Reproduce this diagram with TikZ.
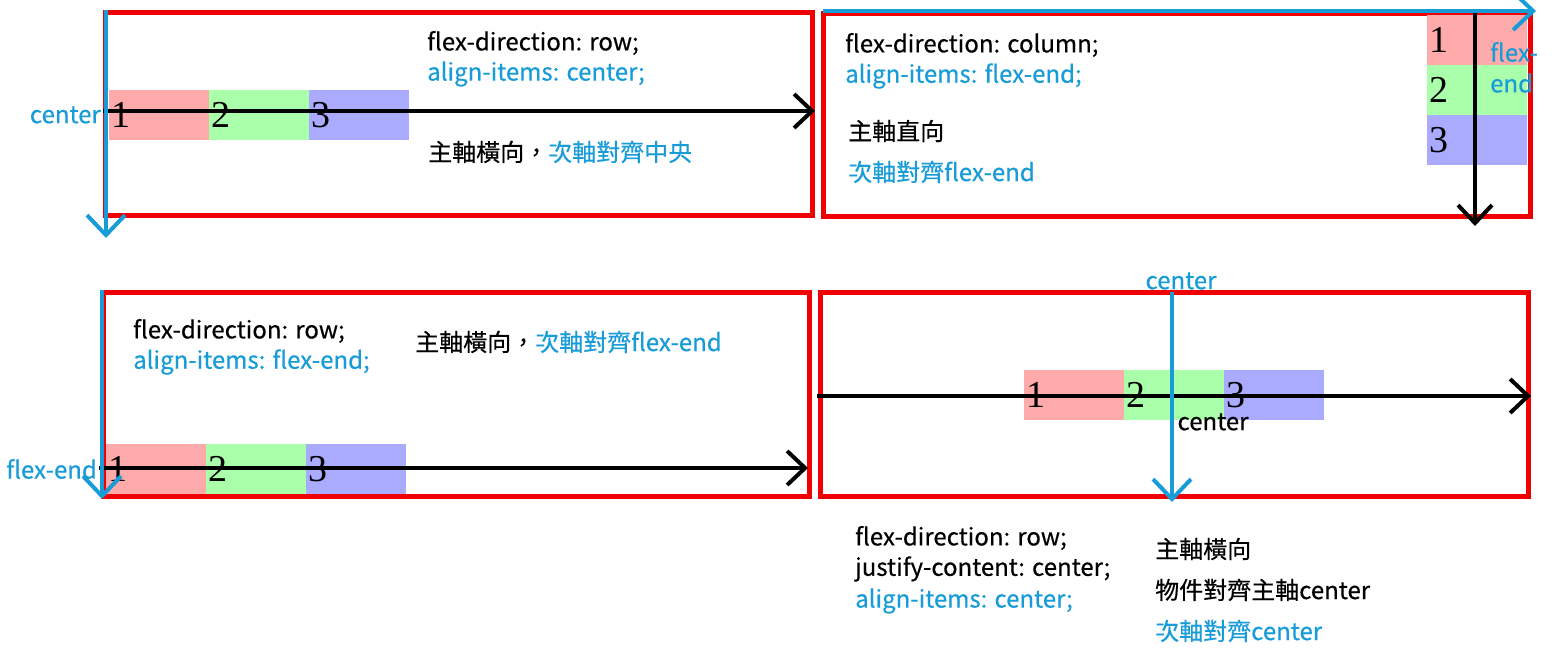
\documentclass[tikz,border=0pt]{standalone}
\usepackage{fontspec}
\setmainfont{Noto Sans CJK TC}[FakeBold=0.4]
\newfontfamily\numfont{Liberation Serif}
\usetikzlibrary{arrows.meta}
\definecolor{cblue}{RGB}{24,156,216}
\definecolor{cred}{RGB}{240,0,0}
\definecolor{ipink}{RGB}{255,170,170}
\definecolor{igreen}{RGB}{170,255,170}
\definecolor{iblue}{RGB}{170,170,255}
\tikzset{
  redbox/.style={draw=cred,line width=5pt},
  item/.style={rectangle,minimum width=100pt,minimum height=50pt,inner xsep=2pt,inner ysep=0pt,text width=96pt,align=left,font=\numfont\fontsize{38}{38}\selectfont},
  mainarrow/.style={draw=black,line width=4pt,-{Straight Barb[length=18pt,width=34pt,line width=4pt]}},
  crossarrow/.style={draw=cblue,line width=4pt,-{Straight Barb[length=20pt,width=38pt,line width=4pt]}},
  txt/.style={anchor=west,inner sep=0pt,font=\fontsize{24}{27}\selectfont},
  btxt/.style={txt,text=cblue},
}
\begin{document}
\begin{tikzpicture}[x=1pt,y=-1pt]
\useasboundingbox (0,0) rectangle (1558,652);
\fill[white] (0,0) rectangle (1558,652);

% ---------- box 1 ----------
\draw[redbox] (105,13) rectangle (812,216);
\node[item,fill=ipink]  (a1) at (159,115) {1};
\node[item,fill=igreen] (a2) at (259,115) {2};
\node[item,fill=iblue]  (a3) at (359,115) {3};
\coordinate (a-ms) at (103,111);
\coordinate (a-me) at (815,111);
\coordinate (a-cs) at (106,10);
\coordinate (a-ce) at (106,238);
\draw[mainarrow] (a-ms) -- (a-me);
\draw[crossarrow] (a-cs) -- (a-ce);
\node[btxt,anchor=east] (a-lab) at (101,115) {center};
\node[txt] (a-t1) at (427,43) {flex-direction: row;};
\node[btxt] (a-t2) at (427,74) {align-items: center;};
\node[txt] (a-t3) at (428,152) {主軸橫向，\textcolor{cblue}{次軸對齊中央}};

% ---------- box 2 ----------
\draw[redbox] (823,14) rectangle (1530,217);
\node[item,fill=ipink]  (b1) at (1477,40) {1};
\node[item,fill=igreen] (b2) at (1477,90) {2};
\node[item,fill=iblue]  (b3) at (1477,140) {3};
\coordinate (b-ms) at (1475,12);
\coordinate (b-me) at (1475,226);
\coordinate (b-cs) at (823,11);
\coordinate (b-ce) at (1536,11);
\draw[mainarrow] (b-ms) -- (b-me);
\draw[crossarrow] (b-cs) -- (b-ce);
\node[btxt] (b-l1) at (1490,52) {flex-};
\node[btxt] (b-l2) at (1490,83) {end};
\node[txt] (b-t1) at (845,45) {flex-direction: column;};
\node[btxt] (b-t2) at (845,76) {align-items: flex-end;};
\node[txt] (b-t3) at (848,131) {主軸直向};
\node[btxt] (b-t4) at (848,172) {次軸對齊flex-end};

% ---------- box 3 ----------
\draw[redbox] (103,293) rectangle (809,496);
\node[item,fill=ipink]  (c1) at (156,469) {1};
\node[item,fill=igreen] (c2) at (256,469) {2};
\node[item,fill=iblue]  (c3) at (356,469) {3};
\coordinate (c-ms) at (99,468);
\coordinate (c-me) at (808,468);
\coordinate (c-cs) at (102,290);
\coordinate (c-ce) at (102,499);
\draw[mainarrow] (c-ms) -- (c-me);
\draw[crossarrow] (c-cs) -- (c-ce);
\node[btxt,anchor=east] (c-lab) at (97,469) {flex-end};
\node[txt] (c-t1) at (133,331) {flex-direction: row;};
\node[btxt] (c-t2) at (133,362) {align-items: flex-end;};
\node[txt] (c-t3) at (415,342) {主軸橫向，\textcolor{cblue}{次軸對齊flex-end}};

% ---------- box 4 ----------
\draw[redbox] (820,293) rectangle (1528,496);
\node[item,fill=ipink]  (d1) at (1074,395) {1};
\node[item,fill=igreen] (d2) at (1174,395) {2};
\node[item,fill=iblue]  (d3) at (1274,395) {3};
\coordinate (d-ms) at (817,396);
\coordinate (d-me) at (1531,396);
\coordinate (d-cs) at (1172,292);
\coordinate (d-ce) at (1172,502);
\draw[mainarrow] (d-ms) -- (d-me);
\draw[crossarrow] (d-cs) -- (d-ce);
\node[btxt,anchor=center] (d-lab1) at (1181,281) {center};
\node[txt,anchor=center] (d-lab2) at (1213,422) {center};
\node[txt] (d-t1) at (855,538) {flex-direction: row;};
\node[txt] (d-t2) at (855,569) {justify-content: center;};
\node[btxt] (d-t3) at (855,601) {align-items: center;};
\node[txt] (d-t4) at (1155,549) {主軸橫向};
\node[txt] (d-t5) at (1155,590) {物件對齊主軸center};
\node[btxt] (d-t6) at (1155,631) {次軸對齊center};
\end{tikzpicture}
\end{document}
